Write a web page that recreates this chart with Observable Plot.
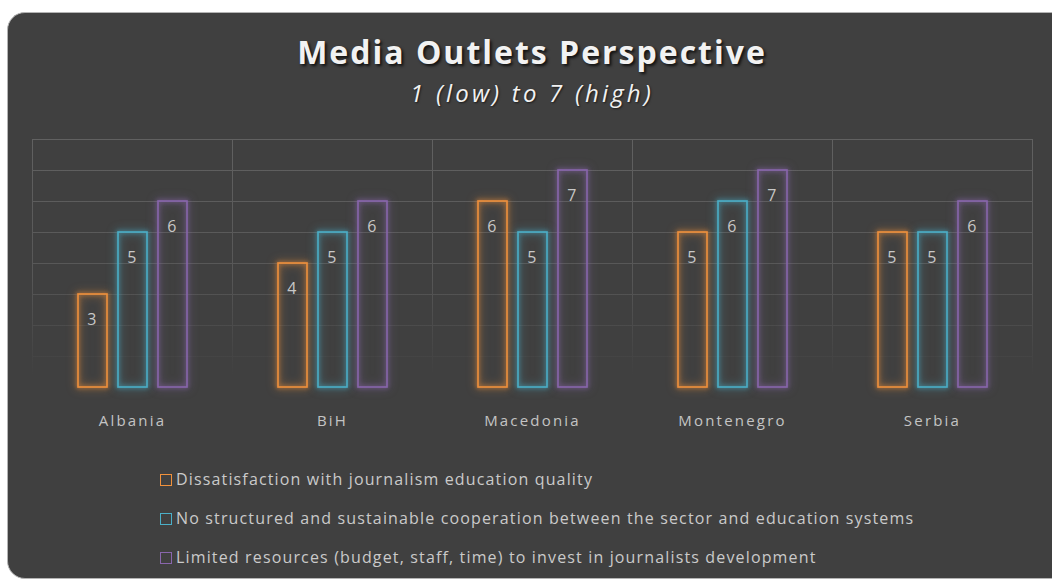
<!DOCTYPE html>
<html>
<head>
<meta charset="utf-8">
<script src="https://cdn.jsdelivr.net/npm/d3@7"></script>
<script src="https://cdn.jsdelivr.net/npm/@observablehq/plot@0.6"></script>
<style>
  html, body { margin: 0; padding: 0; }
  body { width: 1052px; height: 580px; overflow: hidden; background: #ffffff; position: relative; font-family: "Open Sans", sans-serif; }
  #panel { position: absolute; left: 7px; top: 12px; width: 1062px; height: 567px; background: #404040; border: 1.5px solid #b4b4b4; border-radius: 18px; box-sizing: border-box; }
  #title { position: absolute; left: 32px; width: 1000px; top: 29px; line-height: 46px; text-align: center; font-weight: 700; font-size: 32px; letter-spacing: 2px; color: #f2f2f2; text-shadow: 2px 2px 3px rgba(0,0,0,0.75); }
  #subtitle { position: absolute; left: 32px; width: 1000px; top: 77px; line-height: 32px; text-align: center; font-style: italic; font-size: 24px; letter-spacing: 3.2px; color: #f2f2f2; text-shadow: 1px 1px 2px rgba(0,0,0,0.6); }
  #chart { position: absolute; left: 8px; top: 120px; width: 1048px; }
  #chart svg { max-width: none; }
  #legend { position: absolute; left: 160px; top: 460px; }
  .item { height: 39px; line-height: 39px; font-size: 16px; letter-spacing: 1.15px; color: #cacaca; white-space: nowrap; display: flex; align-items: center; }
  .sw { width: 10px; height: 10px; border: 1.5px solid; margin-right: 4px; flex: none; }
</style>
</head>
<body>
<div id="panel"></div>
<div id="title">Media Outlets Perspective</div>
<div id="subtitle">1 (low) to 7 (high)</div>
<div id="chart"></div>
<div id="legend"></div>
<script>
const countries = ["Albania", "BiH", "Macedonia", "Montenegro", "Serbia"];
const seriesNames = [
  "Dissatisfaction with journalism education quality",
  "No structured and sustainable cooperation between the sector and education systems",
  "Limited resources (budget, staff, time) to invest in journalists development"
];
const dissatisfaction = [3, 4, 6, 5, 5];
const noCooperation = [5, 5, 5, 6, 5];
const limitedResources = [6, 6, 7, 7, 6];
const gridValues = [1, 2, 3, 4, 5, 6, 7, 8];
const seriesColors = ["#f0913c", "#4bafc8", "#8966ad"];

const seriesValues = [dissatisfaction, noCooperation, limitedResources];
const rows = [];
countries.forEach((c, i) => {
  seriesNames.forEach((s, j) => rows.push({country: c, series: s, value: seriesValues[j][i]}));
});

const H = 320, MT = 19, MB = 53;
const chart = Plot.plot({
  width: 1048,
  height: H,
  marginLeft: 24,
  marginRight: 24,
  marginTop: MT,
  marginBottom: MB,
  style: {background: "transparent", color: "#c4c4c4", fontFamily: "Open Sans, sans-serif", fontSize: "15px", maxWidth: "none"},
  fx: {domain: countries, padding: 0, label: null, axis: "bottom", tickSize: 0, tickPadding: 28},
  x: {domain: seriesNames, paddingInner: 0.275, paddingOuter: 1.1375, axis: null},
  y: {domain: [0, 8], axis: null},
  color: {domain: seriesNames, range: seriesColors},
  marks: [
    Plot.ruleY(gridValues, {stroke: "url(#gridFade)", strokeWidth: 1}),
    Plot.frame({stroke: "url(#gridFade)", strokeWidth: 1}),
    Plot.barY(rows, {fx: "country", x: "series", y: "value", stroke: "series", fill: "none", strokeWidth: 1.6}),
    Plot.text(rows, {fx: "country", x: "series", y: "value", text: d => String(d.value), dy: 25, fill: "#c8c8c8", fontSize: 16})
  ]
});

const defs = d3.select(chart).insert("defs", ":first-child");
const g = defs.append("linearGradient").attr("id", "gridFade")
  .attr("gradientUnits", "userSpaceOnUse")
  .attr("x1", 0).attr("x2", 0).attr("y1", MT).attr("y2", H - MB);
g.append("stop").attr("offset", "0").attr("stop-color", "#616161");
g.append("stop").attr("offset", "0.55").attr("stop-color", "#575757");
g.append("stop").attr("offset", "0.95").attr("stop-color", "#404040");

// glow on bars
d3.select(chart).selectAll("rect").each(function() {
  const s = this.getAttribute("stroke");
  if (s && s.startsWith("#")) {
    const c = d3.color(s); c.opacity = 0.9;
    const c2 = d3.color(s); c2.opacity = 0.6;
    this.style.filter = `drop-shadow(0 0 2px ${c.formatRgb()}) drop-shadow(0 0 4px ${c2.formatRgb()})`;
  }
});
d3.select(chart).selectAll("text").style("letter-spacing", "2.2px");

document.getElementById("chart").appendChild(chart);

const legend = document.getElementById("legend");
seriesNames.forEach((s, j) => {
  const item = document.createElement("div");
  item.className = "item";
  const sw = document.createElement("span");
  sw.className = "sw";
  sw.style.borderColor = seriesColors[j];
  item.appendChild(sw);
  item.appendChild(document.createTextNode(s));
  legend.appendChild(item);
});
</script>
</body>
</html>
